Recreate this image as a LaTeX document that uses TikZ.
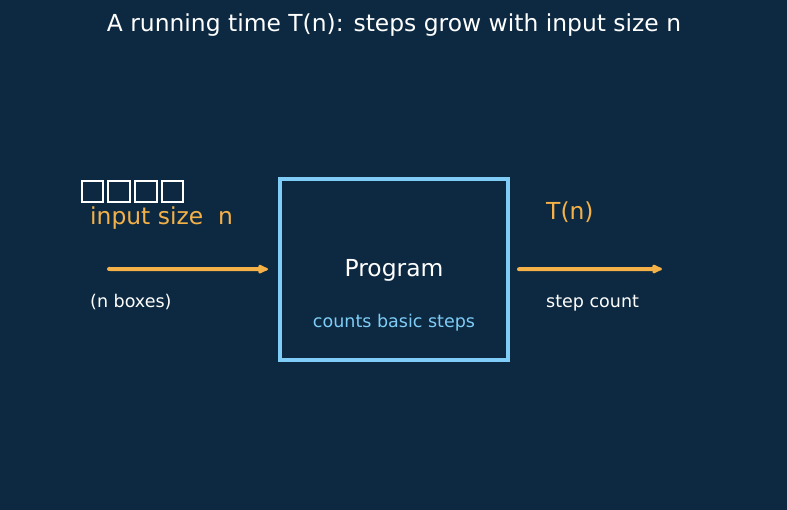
\documentclass[tikz,border=0pt]{standalone}
\usepackage{fontspec}
\setmainfont{DejaVu Sans}
\usetikzlibrary{arrows.meta}
\definecolor{navy}{HTML}{0C2941}
\definecolor{amber}{HTML}{F4B148}
\definecolor{sky}{HTML}{7FCDF7}

\begin{document}
\begin{tikzpicture}[x=1pt,y=-1pt]
% ---- styles ----
\tikzstyle{big}=[font=\fontsize{23.4}{28}\selectfont,inner sep=0pt]
\tikzstyle{small}=[font=\fontsize{17.5}{21}\selectfont,inner sep=0pt]
\tikzstyle{cell}=[draw=white,line width=2pt,minimum size=21.5pt,inner sep=0pt]
\tikzstyle{prog}=[draw=sky,line width=4pt,minimum width=228pt,minimum height=181pt]
\tikzstyle{flow}=[-{Latex[length=13pt,width=11pt,round]},draw=amber,fill=amber,
  line width=4pt,line cap=round]

% ---- background ----
\fill[navy] (0,0) rectangle (787,510);
\useasboundingbox (0,0) rectangle (787,510);

% ---- title ----
\node[big,white,anchor=base] (title) at (394,31.7)
  {A running time T(n): steps grow with input size n};

% ---- input side ----
\foreach \i in {0,...,3}
  \node[cell] (b\i) at (92.5+26.7*\i,191.5) {};
\node[big,amber,anchor=base west] (insize) at (90,225) {input size\ \ n};
\node[small,white,anchor=base west] (nbox) at (90,307.5) {(n boxes)};
\coordinate (src) at (109,269);

% ---- program box ----
\node[prog] (prog) at (394,269.2) {};
\node[big,white,anchor=base] (progtxt) at (394,276.7) {Program};
\node[small,sky,anchor=base] (counts) at (394,327.3) {counts basic steps};

% ---- output side ----
\coordinate (out) at (662,269);
\node[big,amber,anchor=base west] (tn) at (546,220) {T(n)};
\node[small,white,anchor=base west] (stepcnt) at (546,308) {step count};

% ---- arrows ----
\draw[flow,shorten >=10pt] (src) -- (prog.west);
\draw[flow,shorten <=9pt] (prog.east) -- (out);

\end{tikzpicture}
\end{document}
